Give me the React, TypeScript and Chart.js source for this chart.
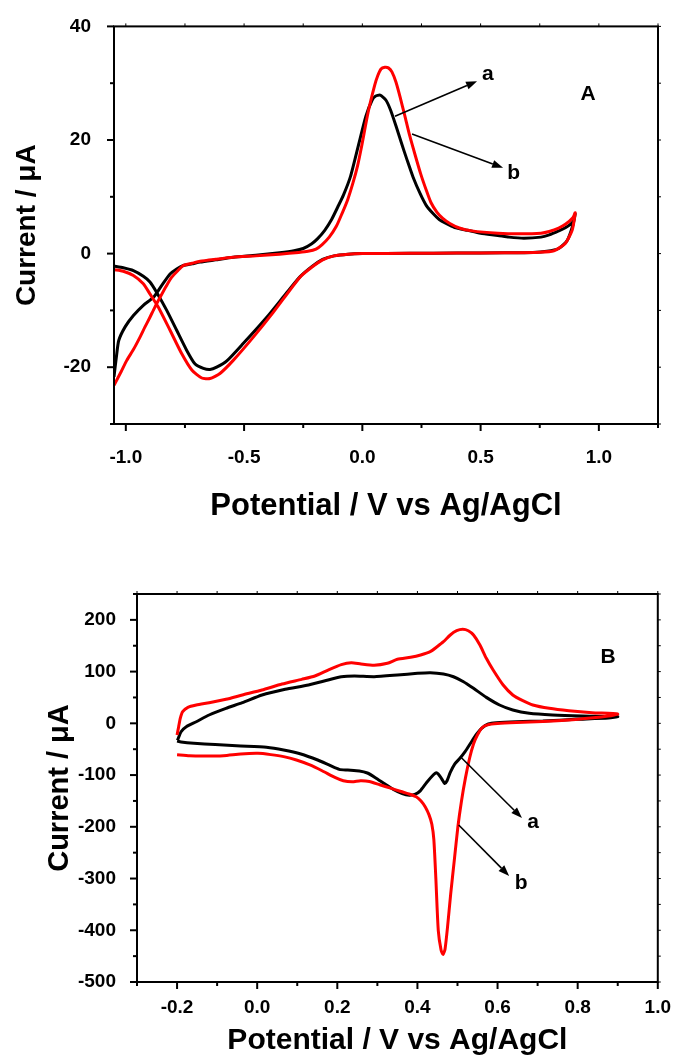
import React, { useEffect, useRef } from 'react';
import { Chart, registerables } from 'chart.js';

Chart.register(...registerables);

const FONT_FAMILY = '"Liberation Sans", Arial, Helvetica, sans-serif';

// ---------------- Panel A ----------------
const A_X_RANGE = [-1.05, 1.25];
const A_Y_RANGE = [-30, 40];
const A_X_MAJOR = [-1.0, -0.5, 0.0, 0.5, 1.0];
const A_X_MINOR = [-0.75, -0.25, 0.25, 0.75, 1.25];
const A_Y_MAJOR = [-20, 0, 20, 40];
const A_Y_MINOR = [-30, -10, 10, 30];

// curve a (black)
const A_BLACK_X = [
  -1.05, -1.011, -0.968, -0.926, -0.898, -0.87, -0.827, -0.785, -0.743, -0.708, -0.672, -0.644, -0.616, -0.573, -0.503,
  -0.404, -0.32, -0.264, -0.214, -0.168, -0.12, -0.06, 0.0, 0.2, 0.4, 0.6, 0.72, 0.78, 0.83, 0.866, 0.89, 0.9,
  0.89, 0.86, 0.83, 0.79, 0.755, 0.683, 0.62, 0.573, 0.5, 0.445, 0.39, 0.354, 0.325, 0.299, 0.27, 0.244, 0.215,
  0.189, 0.165, 0.142, 0.12, 0.1, 0.075, 0.055, 0.041, 0.015, -0.014, -0.05, -0.08, -0.104, -0.13, -0.159, -0.19,
  -0.214, -0.25, -0.289, -0.35, -0.45, -0.546, -0.62, -0.686, -0.72, -0.757, -0.785, -0.813, -0.848, -0.883, -0.926,
  -0.968, -1.003, -1.03, -1.04, -1.05,
];
const A_BLACK_Y = [
  -2.2, -2.5, -3.0, -4.0, -5.0, -6.8, -10.0, -13.5, -17.0, -19.4, -20.2, -20.4, -20.0, -18.9, -15.8,
  -11.2, -6.9, -4.1, -2.3, -1.0, -0.4, -0.1, 0.0, 0.05, 0.1, 0.15, 0.2, 0.4, 0.9, 2.3, 5.0, 7.0,
  5.6, 4.6, 4.0, 3.3, 2.9, 2.7, 2.9, 3.2, 3.6, 4.1, 4.6, 5.3, 6.0, 7.05, 8.5, 10.6, 13.4,
  16.5, 19.5, 22.5, 25.2, 27.0, 27.9, 27.7, 27.0, 24.2, 19.5, 13.6, 10.3, 8.2, 6.0, 4.1, 2.6,
  1.75, 0.9, 0.5, 0.15, -0.3, -0.65, -1.1, -1.5, -1.8, -2.1, -2.7, -3.6, -5.6, -7.7, -9.1,
  -10.9, -12.9, -15.3, -18.2, -21.7,
];

// curve b (red)
const A_RED_X = [
  -1.05, -1.011, -0.968, -0.926, -0.898, -0.863, -0.813, -0.764, -0.721, -0.679, -0.644, -0.602, -0.546, -0.461,
  -0.376, -0.264, -0.214, -0.168, -0.12, -0.06, 0.0, 0.2, 0.4, 0.6, 0.75, 0.81, 0.857, 0.887, 0.9,
  0.89, 0.86, 0.83, 0.79, 0.755, 0.665, 0.573, 0.463, 0.41, 0.37, 0.34, 0.315, 0.29, 0.27, 0.247, 0.225, 0.2, 0.18,
  0.16, 0.142, 0.125, 0.11, 0.095, 0.079, 0.065, 0.052, 0.024, -0.003, -0.02, -0.04, -0.062, -0.086, -0.11, -0.14,
  -0.17, -0.196, -0.23, -0.269, -0.35, -0.45, -0.546, -0.62, -0.686, -0.72, -0.757, -0.78, -0.806, -0.83, -0.855,
  -0.878, -0.898, -0.92, -0.94, -0.968, -0.996, -1.02, -1.05,
];
const A_RED_Y = [
  -2.85, -3.1, -3.85, -5.3, -7.1, -9.4, -13.5, -17.6, -20.5, -21.9, -22.0, -21.1, -18.8, -14.7,
  -10.3, -4.15, -2.4, -1.1, -0.4, -0.1, 0.0, 0.05, 0.1, 0.15, 0.25, 0.5, 1.75, 4.1, 7.2,
  6.3, 5.2, 4.5, 3.9, 3.6, 3.5, 3.6, 4.0, 4.5, 5.3, 6.2, 7.3, 9.0, 11.2, 14.0, 17.1, 20.8, 24.2,
  27.5, 30.2, 32.0, 32.7, 32.8, 32.5, 31.3, 29.6, 24.8, 18.9, 15.5, 12.4, 9.5, 7.05, 4.8, 2.9,
  1.6, 0.8, 0.4, 0.2, -0.1, -0.4, -0.65, -1.0, -1.35, -1.7, -2.1, -3.0, -4.15, -5.8, -7.7,
  -9.5, -11.2, -13.0, -14.7, -16.9, -18.8, -20.8, -23.2,
];

// annotations [x0, y0, x1, y1] and labels [text, x, y]
const A_ARROWS = [
  [0.138, 24.2, 0.485, 30.35],
  [0.21, 21.05, 0.595, 15.1],
];
const A_LABELS = [
  ['a', 0.531, 31.6],
  ['b', 0.64, 14.2],
  ['A', 0.954, 28.1],
];

// ---------------- Panel B ----------------
const B_X_RANGE = [-0.3, 1.0];
const B_Y_RANGE = [-500, 250];
const B_X_MAJOR = [-0.2, 0.0, 0.2, 0.4, 0.6, 0.8, 1.0];
const B_X_MINOR = [-0.3, -0.1, 0.1, 0.3, 0.5, 0.7, 0.9];
const B_Y_MAJOR = [-500, -400, -300, -200, -100, 0, 100, 200];
const B_Y_MINOR = [-450, -350, -250, -150, -50, 50, 150, 250];

const B_BLACK_X = [
  -0.199, -0.19, -0.177, -0.152, -0.12, -0.078, -0.037, 0.012, 0.07, 0.128, 0.177, 0.21, 0.243, 0.292, 0.35, 0.4,
  0.432, 0.465, 0.49, 0.515, 0.54, 0.572, 0.605, 0.638, 0.679, 0.737, 0.811, 0.9,
  0.877, 0.795, 0.713, 0.647, 0.597, 0.577, 0.56, 0.548, 0.535, 0.519, 0.506, 0.493, 0.482, 0.474, 0.468, 0.461,
  0.452, 0.447, 0.44, 0.423, 0.407, 0.395, 0.38, 0.362, 0.34, 0.318, 0.295, 0.275, 0.255, 0.226, 0.205, 0.183,
  0.151, 0.109, 0.066, 0.023, -0.041, -0.105, -0.158, -0.19, -0.2,
];
const B_BLACK_Y = [
  -33, -16.2, -6.5, 3.1, 16.1, 29, 39.9, 54.8, 65.8, 74.1, 83.8, 90.1, 91.5, 90.1, 93.4, 96.7,
  97.9, 95.4, 90, 80.4, 67.6, 50.2, 35.4, 25.8, 19.4, 16.1, 14.2, 13,
  10.3, 7.7, 4.5, 3.2, 1.2, -1.3, -9.7, -20.6, -35.5, -54.8, -67.6, -78.7, -94.9, -111, -116.3, -107.8,
  -98.1, -95.5, -99.4, -114.3, -130.5, -137, -139, -136, -128, -117, -105, -96, -92, -90.3, -89, -81.9,
  -70.9, -59.2, -51.5, -46.3, -43.7, -41.1, -38.5, -35.9, -34,
];

const B_RED_X = [
  -0.2, -0.196, -0.192, -0.186, -0.173, -0.152, -0.12, -0.078, -0.037, 0.012, 0.062, 0.111, 0.144, 0.177, 0.21,
  0.235, 0.259, 0.292, 0.325, 0.35, 0.383, 0.408, 0.432, 0.449, 0.465, 0.482, 0.498, 0.513, 0.527, 0.54, 0.556,
  0.572, 0.589, 0.614, 0.638, 0.663, 0.688, 0.729, 0.778, 0.836, 0.9,
  0.877, 0.795, 0.713, 0.647, 0.6, 0.575, 0.562, 0.55, 0.54, 0.53, 0.52, 0.51, 0.501, 0.492, 0.483, 0.475, 0.469,
  0.464, 0.459, 0.452, 0.446, 0.441, 0.436, 0.429, 0.42, 0.409, 0.397, 0.381, 0.359, 0.333, 0.306, 0.28, 0.258, 0.237,
  0.215, 0.194, 0.162, 0.13, 0.098, 0.066, 0.034, 0.002, -0.041, -0.084, -0.137, -0.169, -0.2,
];
const B_RED_Y = [
  -22.6, -6.5, 9.7, 22.5, 31, 35.4, 39.9, 46.4, 54.8, 64.4, 76, 85, 91.5, 103, 113.4,
  117.2, 114.7, 112.2, 116, 123.8, 127.6, 132, 138.5, 148, 157.8, 170.7, 179, 181.7, 179, 170.7, 151.4,
  125.7, 103, 74, 54.8, 43.8, 35.4, 29, 24.4, 20.6, 18,
  14, 7.5, 3.5, 1.5, -0.5, -3, -8, -22, -40, -68, -105, -150, -200, -265, -330, -395, -436,
  -447, -438, -400, -300, -225, -195, -177, -162, -150, -142, -137, -131.8, -125.3, -118.8, -112.4, -111, -113,
  -111, -104.6, -91.6, -80, -70.9, -64.4, -60.5, -58, -59.2, -62.5, -63.1, -62.5, -60.5,
];

const B_ARROWS = [
  [0.508, -65, 0.661, -183],
  [0.503, -196.5, 0.629, -295],
];
const B_LABELS = [
  ['a', 0.689, -191],
  ['b', 0.659, -309],
  ['B', 0.876, 128],
];

type PanelCfg = {
  xRange: number[]; yRange: number[];
  xMajor: number[]; xMinor: number[]; yMajor: number[]; yMinor: number[];
  blackX: number[]; blackY: number[]; redX: number[]; redY: number[];
  arrows: number[][]; labels: any[][];
  height: number; padTop: number; padRight: number; yAxisWidth: number; xAxisHeight: number;
  xTickPad: number; yTickPad: number; xTitleSize: number; xTitlePadBottom: number;
  yTitleSize: number; yTitlePadTop: number; xFmt: (v: number) => string;
};

const PANEL_A: PanelCfg = {
  xRange: A_X_RANGE, yRange: A_Y_RANGE, xMajor: A_X_MAJOR, xMinor: A_X_MINOR, yMajor: A_Y_MAJOR, yMinor: A_Y_MINOR,
  blackX: A_BLACK_X, blackY: A_BLACK_Y, redX: A_RED_X, redY: A_RED_Y, arrows: A_ARROWS, labels: A_LABELS,
  height: 545, padTop: 25, padRight: 19, yAxisWidth: 114, xAxisHeight: 121,
  xTickPad: 14, yTickPad: 15, xTitleSize: 31, xTitlePadBottom: 20, yTitleSize: 28, yTitlePadTop: 10,
  xFmt: (v) => v.toFixed(1),
};

const PANEL_B: PanelCfg = {
  xRange: B_X_RANGE, yRange: B_Y_RANGE, xMajor: B_X_MAJOR, xMinor: B_X_MINOR, yMajor: B_Y_MAJOR, yMinor: B_Y_MINOR,
  blackX: B_BLACK_X, blackY: B_BLACK_Y, redX: B_RED_X, redY: B_RED_Y, arrows: B_ARROWS, labels: B_LABELS,
  height: 514, padTop: 49, padRight: 14, yAxisWidth: 137, xAxisHeight: 77,
  xTickPad: 6, yTickPad: 13, xTitleSize: 30, xTitlePadBottom: 0, yTitleSize: 29, yTitlePadTop: 43,
  xFmt: (v) => v.toFixed(1),
};

function makeFramePlugin(cfg: PanelCfg) {
  return {
    id: 'frameTicks',
    afterDraw(chart: any) {
      const { ctx, chartArea: ca, scales } = chart;
      const xs = scales.x;
      const ys = scales.y;
      const line = (x1: number, y1: number, x2: number, y2: number, w: number) => {
        ctx.lineWidth = w;
        ctx.beginPath();
        ctx.moveTo(x1, y1);
        ctx.lineTo(x2, y2);
        ctx.stroke();
      };
      ctx.save();
      ctx.strokeStyle = '#000';
      ctx.lineCap = 'butt';
      cfg.xMajor.forEach((v) => {
        const p = xs.getPixelForValue(v);
        line(p, ca.bottom, p, ca.bottom + 7, 2);
        line(p, ca.top, p, ca.top - 3, 1);
      });
      cfg.xMinor.forEach((v) => {
        const p = xs.getPixelForValue(v);
        line(p, ca.bottom, p, ca.bottom + 4, 2);
        line(p, ca.top, p, ca.top - 3, 1);
      });
      cfg.yMajor.forEach((v) => {
        const p = ys.getPixelForValue(v);
        line(ca.left, p, ca.left - 7, p, 2);
        line(ca.right, p, ca.right + 3, p, 1);
      });
      cfg.yMinor.forEach((v) => {
        const p = ys.getPixelForValue(v);
        line(ca.left, p, ca.left - 4, p, 2);
        line(ca.right, p, ca.right + 3, p, 1);
      });
      ctx.lineWidth = 2;
      ctx.strokeRect(ca.left, ca.top, ca.right - ca.left, ca.bottom - ca.top);
      ctx.restore();
    },
  };
}

function makeAnnotPlugin(cfg: PanelCfg) {
  return {
    id: 'annotations',
    afterDatasetsDraw(chart: any) {
      const { ctx, scales } = chart;
      const xs = scales.x;
      const ys = scales.y;
      ctx.save();
      ctx.strokeStyle = '#000';
      ctx.fillStyle = '#000';
      cfg.arrows.forEach(([x0, y0, x1, y1]) => {
        const px0 = xs.getPixelForValue(x0);
        const py0 = ys.getPixelForValue(y0);
        const px1 = xs.getPixelForValue(x1);
        const py1 = ys.getPixelForValue(y1);
        const ang = Math.atan2(py1 - py0, px1 - px0);
        const len = 11;
        const half = 4;
        const bx = px1 - len * Math.cos(ang);
        const by = py1 - len * Math.sin(ang);
        ctx.lineWidth = 1.6;
        ctx.beginPath();
        ctx.moveTo(px0, py0);
        ctx.lineTo(bx, by);
        ctx.stroke();
        ctx.beginPath();
        ctx.moveTo(px1, py1);
        ctx.lineTo(bx + half * Math.sin(ang), by - half * Math.cos(ang));
        ctx.lineTo(bx - half * Math.sin(ang), by + half * Math.cos(ang));
        ctx.closePath();
        ctx.fill();
      });
      ctx.font = `bold 21px ${FONT_FAMILY}`;
      ctx.textAlign = 'center';
      ctx.textBaseline = 'middle';
      cfg.labels.forEach(([t, x, y]) => {
        ctx.fillText(t, xs.getPixelForValue(x), ys.getPixelForValue(y));
      });
      ctx.restore();
    },
  };
}

function buildConfig(cfg: PanelCfg): any {
  const pts = (xs: number[], ys: number[]) => xs.map((x, i) => ({ x, y: ys[i] }));
  const tickFont = { family: FONT_FAMILY, size: 19, weight: 'bold' as const };
  return {
    type: 'scatter',
    data: {
      datasets: [
        {
          label: 'b',
          data: pts(cfg.redX, cfg.redY),
          showLine: true,
          borderColor: '#ff0000',
          backgroundColor: '#ff0000',
          borderWidth: 3,
          pointRadius: 0,
          tension: 0.2,
          fill: false,
          order: 0,
        },
        {
          label: 'a',
          data: pts(cfg.blackX, cfg.blackY),
          showLine: true,
          borderColor: '#000000',
          backgroundColor: '#000000',
          borderWidth: 3,
          pointRadius: 0,
          tension: 0.2,
          fill: false,
          order: 1,
        },
      ],
    },
    options: {
      responsive: false,
      animation: false,
      events: [],
      layout: { padding: { top: cfg.padTop, right: cfg.padRight, left: 0, bottom: 0 } },
      plugins: {
        legend: { display: false },
        tooltip: { enabled: false },
        title: { display: false },
      },
      scales: {
        x: {
          type: 'linear',
          min: cfg.xRange[0],
          max: cfg.xRange[1],
          afterBuildTicks: (s: any) => {
            s.ticks = cfg.xMajor.map((v) => ({ value: v }));
          },
          afterFit: (s: any) => {
            s.height = cfg.xAxisHeight;
          },
          grid: { display: false },
          border: { display: false },
          ticks: {
            autoSkip: false,
            maxRotation: 0,
            minRotation: 0,
            padding: cfg.xTickPad,
            color: '#000',
            font: tickFont,
            callback: (v: any) => cfg.xFmt(Number(v)),
          },
          title: {
            display: true,
            text: 'Potential / V vs Ag/AgCl',
            color: '#000',
            font: { family: FONT_FAMILY, size: cfg.xTitleSize, weight: 'bold' },
            padding: { top: 0, bottom: cfg.xTitlePadBottom },
          },
        },
        y: {
          type: 'linear',
          min: cfg.yRange[0],
          max: cfg.yRange[1],
          afterBuildTicks: (s: any) => {
            s.ticks = cfg.yMajor.map((v) => ({ value: v }));
          },
          afterFit: (s: any) => {
            s.width = cfg.yAxisWidth;
          },
          grid: { display: false },
          border: { display: false },
          ticks: {
            autoSkip: false,
            padding: cfg.yTickPad,
            color: '#000',
            font: tickFont,
            callback: (v: any) => String(Number(v)),
          },
          title: {
            display: true,
            text: 'Current / μA',
            color: '#000',
            font: { family: FONT_FAMILY, size: cfg.yTitleSize, weight: 'bold' },
            padding: { top: cfg.yTitlePadTop, bottom: 0 },
          },
        },
      },
    },
    plugins: [makeFramePlugin(cfg), makeAnnotPlugin(cfg)],
  };
}

function Panel({ cfg, top }: { cfg: PanelCfg; top: number }) {
  const ref = useRef<HTMLCanvasElement | null>(null);
  useEffect(() => {
    if (!ref.current) return;
    const chart = new Chart(ref.current, buildConfig(cfg));
    return () => chart.destroy();
  }, [cfg]);
  return (
    <canvas
      ref={ref}
      width={677}
      height={cfg.height}
      style={{ position: 'absolute', left: 0, top, width: 677, height: cfg.height, display: 'block' }}
    />
  );
}

export default function App() {
  return (
    <div style={{ position: 'absolute', left: 0, top: 0, width: 677, height: 1059, background: '#fff', overflow: 'hidden' }}>
      <Panel cfg={PANEL_A} top={0} />
      <Panel cfg={PANEL_B} top={PANEL_A.height} />
    </div>
  );
}
